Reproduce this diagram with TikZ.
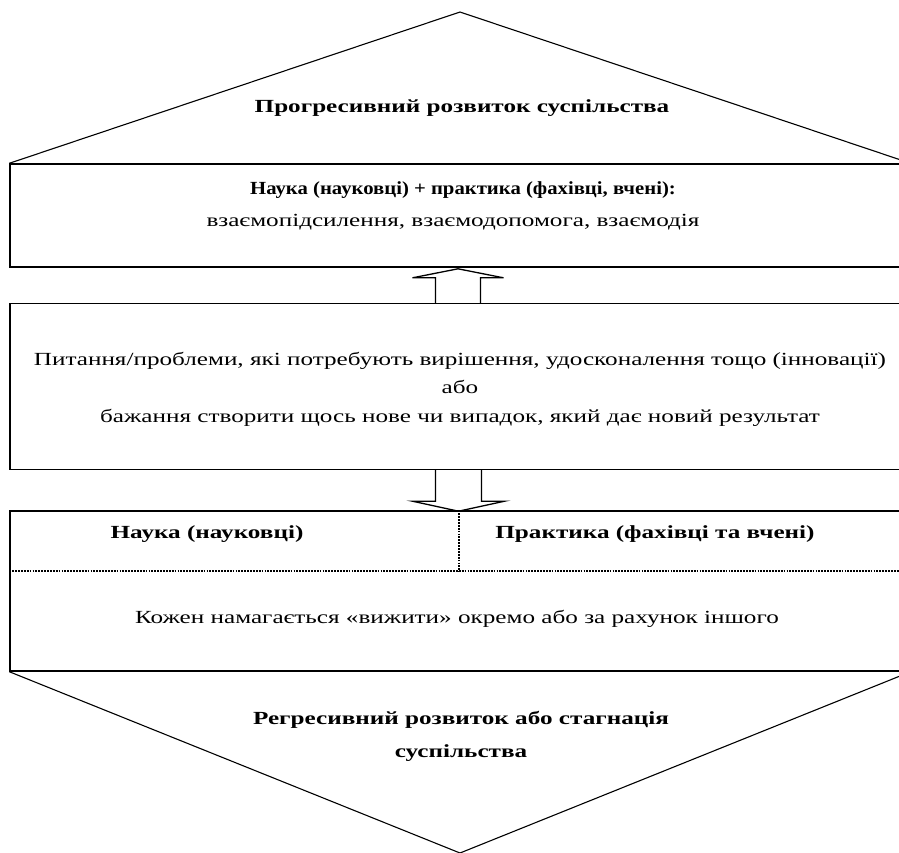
\documentclass[tikz,border=0pt]{standalone}
\usepackage{fontspec}
\setmainfont{Liberation Serif}[FakeStretch=1.36]
\newfontfamily\tightserif{Liberation Serif}[FakeStretch=1.12]
\usetikzlibrary{positioning, calc}

\begin{document}
\begin{tikzpicture}[
    x=1pt, y=-1pt,
    every node/.style={font=\fontsize{18.5}{28.5}\selectfont, align=center, inner sep=0pt},
    panel/.style={draw, line width=1.4pt, minimum width=900pt},
    head/.style={font=\fontsize{18.5}{33}\selectfont\bfseries},
    roof/.style={line width=1.1pt},
    blockarrow/.style={line width=1.3pt},
    sep/.style={line width=2.2pt, dash pattern=on 1.8pt off 1.1pt}
]
    \useasboundingbox (0,0) rectangle (899,852);

    % the three levels
    \node (joint) [panel, minimum height=103pt] at (460,215.5) {};
    \node (issue) [panel, minimum height=166pt] at (460,386.5) {};
    \node (apart) [panel, minimum height=160pt] at (460,591) {};

    % roof and keel
    \coordinate (peak) at (460,12);
    \coordinate (keel) at (460,853);
    \draw [roof] (joint.north west) -- (peak) -- (joint.north east);
    \draw [roof] (apart.south west) -- (keel) -- (apart.south east);

    % hollow arrows between the levels
    \draw [blockarrow] (issue.north) ++(-24.5,0) -- ++(0,-25) -- ++(-23,0) -- ++(45.5,-9) -- ++(45.5,9) -- ++(-23,0) -- ++(0,25);
    \draw [blockarrow] (issue.south) ++(-24.5,0) -- ++(0,31) -- ++(-23,0) -- ++(46,10) -- ++(46,-10) -- ++(-23,0) -- ++(0,-31);

    % dotted split of the lower level
    \coordinate (split) at ($(apart.north)+(-1,61)$);
    \draw [sep] ($(apart.north west)+(0,61)$) -- ($(apart.north east)+(0,61)$);
    \draw [sep] ($(apart.north)+(-1,0)$) -- (split);

    % texts
    \node (progress) [head] at (462,108) {Прогресивний розвиток суспільства};
    \node (jointtitle) [head, font=\fontsize{18.5}{20}\selectfont\tightserif\bfseries] at (463,190) {Наука (науковці) + практика (фахівці, вчені):};
    \node (jointtext) at (453,222) {взаємопідсилення, взаємодопомога, взаємодія};
    \node (issuetext) at (460,389) {Питання/проблеми, які потребують вирішення, удосконалення тощо (інновації)\\або\\бажання створити щось нове чи випадок, який дає новий результат};
    \node (sciencehead) [head] at (207,534) {Наука (науковці)};
    \node (practicehead) [head] at (655,534) {Практика (фахівці та вчені)};
    \node (aparttext) at (457,619) {Кожен намагається «вижити» окремо або за рахунок іншого};
    \node (regress) [head] at (461,736) {Регресивний розвиток або стагнація\\суспільства};
\end{tikzpicture}
\end{document}
